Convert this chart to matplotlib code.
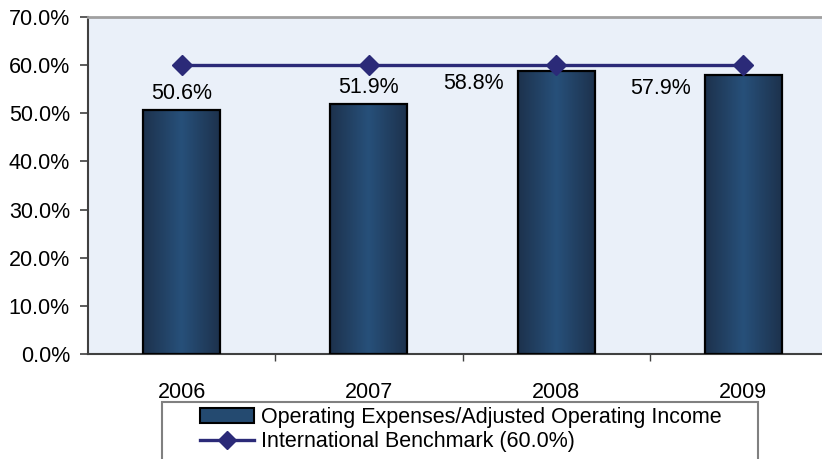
import numpy as np
import matplotlib.pyplot as plt
from matplotlib.patches import Rectangle, Patch
from matplotlib.lines import Line2D
from matplotlib.colors import LinearSegmentedColormap

years = ['2006', '2007', '2008', '2009']
ratio = [50.6, 51.9, 58.8, 57.9]
benchmark = [60.0, 60.0, 60.0, 60.0]
bar_label = 'Operating Expenses/Adjusted Operating Income'
line_label = 'International Benchmark (60.0%)'

plt.rcParams['font.family'] = ['Liberation Sans', 'DejaVu Sans']
fs = 15.5

fig = plt.figure(figsize=(8.22, 4.59), dpi=100)
ax = fig.add_axes([88/822, 105/459, 749/822, 337/459])
ax.set_facecolor('#EAF0F9')

x = np.arange(len(years))
w = 0.41
grad = LinearSegmentedColormap.from_list('bar', ['#1D324D', '#27507A', '#1D324D'])
g = np.linspace(0, 1, 100).reshape(1, -1)
for xi, v in zip(x, ratio):
    ax.imshow(g, cmap=grad, aspect='auto', extent=[xi - w/2, xi + w/2, 0, v], zorder=2)
bars = ax.bar(x, ratio, w, facecolor='none', edgecolor='black', linewidth=1.6, zorder=3)

ax.plot(x, benchmark, color='#2B2A78', linewidth=2.4, marker='D', markersize=10.5, zorder=4)

# labels: first two above bars, last two to the left (line is in the way)
for i, v in enumerate(ratio):
    if i < 2:
        ax.annotate(f'{v:.1f}%', (x[i], v), xytext=(0, 17), textcoords='offset pixels',
                    ha='center', va='center', fontsize=fs)
    else:
        ax.annotate(f'{v:.1f}%', (x[i] - w/2, v), xytext=(-44, -13), textcoords='offset pixels',
                    ha='center', va='center', fontsize=fs)

ax.set_xlim(-0.5, 3.5)
ax.set_ylim(0, 70)
ax.set_yticks(np.arange(0, 71, 10))
ax.set_yticklabels([f'{t:.1f}%' for t in np.arange(0, 71, 10)])
ax.set_xticks([0.5, 1.5, 2.5])
ax.set_xticklabels([])
ax.set_xticks(x, minor=True)
ax.set_xticklabels(years, minor=True)
ax.tick_params(axis='x', which='major', length=5, width=1, color='#404040', direction='out')
ax.tick_params(axis='x', which='minor', length=0, pad=20, labelsize=fs)
ax.tick_params(axis='y', length=6, width=1.2, color='#404040', pad=7, labelsize=fs)

for s in ['left', 'bottom']:
    ax.spines[s].set_color('#404040')
    ax.spines[s].set_linewidth(1.5)
ax.spines['top'].set_color('#A0A0A0')
ax.spines['top'].set_linewidth(2)

fig.patches.append(Rectangle((162/822, -0.05), 596/822, 0.05 + 1 - 402/459,
                             transform=fig.transFigure, fill=False,
                             edgecolor='#808080', linewidth=1.5))
handles = [Patch(facecolor='#244A70', edgecolor='black', linewidth=1.5),
           Line2D([], [], color='#2B2A78', linewidth=2.4, marker='D', markersize=9)]
fig.legend(handles, [bar_label, line_label], loc='upper left',
           bbox_to_anchor=(200/822, 1 - 407/459), frameon=False, borderpad=0,
           handlelength=2.5, handletextpad=0.35, labelspacing=0.15, fontsize=fs,
           borderaxespad=0)

fig.savefig('out.png', dpi=100)
